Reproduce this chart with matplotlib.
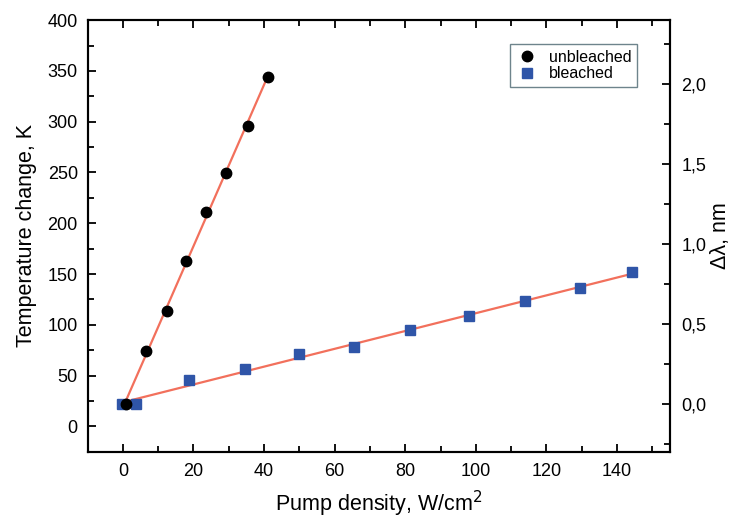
import numpy as np
import matplotlib
matplotlib.use('Agg')
from matplotlib import pyplot as plt
from matplotlib.ticker import MultipleLocator, FuncFormatter

plt.rcParams['font.family'] = ['Liberation Sans', 'DejaVu Sans']

# unbleached sample: pump density (W/cm2) vs temperature change (K)
unbleachedX = [0.8, 6.7, 12.5, 17.9, 23.5, 29.1, 35.4, 41.0]
unbleachedY = [22.3, 73.7, 113.4, 163.2, 211.4, 249.1, 296.0, 344.2]

# bleached sample
bleachedX = [-0.2, 3.7, 18.75, 34.7, 49.9, 65.6, 81.4, 98.1, 113.9, 129.4, 144.1]
bleachedY = [22.3, 22.0, 45.2, 56.0, 71.5, 78.0, 95.1, 108.2, 123.2, 136.0, 151.7]

fitColor = '#f2705c'

fig = plt.figure(figsize=(7.33, 5.2), dpi=100)
ax = fig.add_axes([0.1194, 0.1313, 0.7947, 0.830])

# linear fits
for xs, ys in [(unbleachedX, unbleachedY), (bleachedX, bleachedY)]:
    k, b = np.polyfit(xs, ys, 1)
    xx = np.array([min(xs), max(xs)])
    ax.plot(xx, k * xx + b, color=fitColor, lw=1.6, zorder=2)

ax.plot(bleachedX, bleachedY, 's', color='#2f55a8', ms=6.5, label='bleached', zorder=3)
ax.plot(unbleachedX, unbleachedY, 'o', color='black', ms=7.5, label='unbleached', zorder=4)

ax.set_xlim(-10, 155)
ax.set_ylim(-25, 400)
ax.xaxis.set_major_locator(MultipleLocator(20))
ax.xaxis.set_minor_locator(MultipleLocator(10))
ax.yaxis.set_major_locator(MultipleLocator(50))
ax.yaxis.set_minor_locator(MultipleLocator(25))
ax.tick_params(which='both', direction='in', top=True, right=False, labelsize=13, width=1.3)
ax.tick_params(which='major', length=6)
ax.tick_params(which='minor', length=4)
ax.tick_params(axis='x', which='major', pad=8)
ax.tick_params(axis='y', which='major', pad=7)
ax.set_xlabel('Pump density, W/cm$^2$', fontsize=15.5)
ax.xaxis.set_label_coords(0.5, -0.086)
ax.set_ylabel('Temperature change, K', fontsize=15.5)
ax.yaxis.set_label_coords(-0.086, 0.5)

ax2 = ax.twinx()
ax2.set_ylim(-0.30, 2.40)
ax2.yaxis.set_major_locator(MultipleLocator(0.5))
ax2.yaxis.set_minor_locator(MultipleLocator(0.25))
ax2.yaxis.set_major_formatter(FuncFormatter(lambda v, p: ('%.1f' % v).replace('.', ',')))
ax2.tick_params(which='both', direction='in', labelsize=13, width=1.3)
ax2.tick_params(which='major', length=6, pad=8)
ax2.tick_params(which='minor', length=4)
ax2.set_ylabel('Δλ, nm', fontsize=15.5)
ax2.yaxis.set_label_coords(1.069, 0.5)

for a in (ax, ax2):
    for s in a.spines.values():
        s.set_linewidth(1.5)

h, l = ax.get_legend_handles_labels()
leg = ax.legend(h[::-1], l[::-1], loc='upper right', bbox_to_anchor=(0.9435, 0.944),
                borderaxespad=0, fontsize=11.5, frameon=True, fancybox=False,
                handlelength=1.4, handletextpad=0.7, borderpad=0.35, labelspacing=0.1)
leg.get_frame().set_edgecolor('#4a6670')
leg.get_frame().set_linewidth(1.0)

fig.savefig('out.png', dpi=100)
